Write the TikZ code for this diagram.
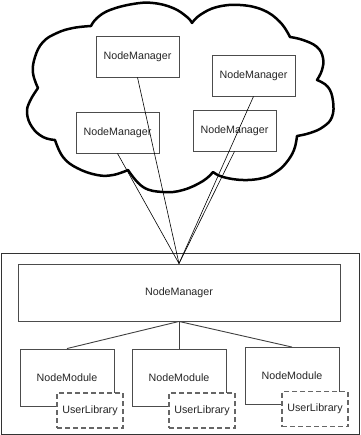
\documentclass[tikz,border=0pt]{standalone}
\usepackage{fontspec}
\setmainfont{Liberation Sans}
\begin{document}
\begin{tikzpicture}[x=1pt,y=-1pt,
  box/.style={draw=black!70, line width=0.9pt, fill=white, minimum width=83pt, minimum height=41pt, inner sep=0pt, font=\fontsize{10.7}{12}\selectfont, text=black!85},
  modbox/.style={box, minimum width=94pt, minimum height=57pt},
  libbox/.style={box, draw=black!60, dashed, dash pattern=on 5pt off 3pt, line width=1.1pt, minimum width=66pt, minimum height=35pt},
  link/.style={draw=black, line width=0.6pt},
  cloudline/.style={draw=black, line width=2.5pt, line join=round, line cap=round}]
\useasboundingbox (0,0) rectangle (360,435);
% cloud
\path[cloudline]
  plot[smooth, tension=0.7] coordinates {(38,88) (33,73) (35,57) (43,42) (57,33) (73,28) (91,26)}
  -- plot[smooth, tension=0.7] coordinates {(91,26) (97,18) (110,10) (133,4) (153,3) (173,8) (187,17) (192,23)}
  -- plot[smooth, tension=0.7] coordinates {(192,23) (200,15) (217,7) (240,5) (263,10) (280,22) (290,37)}
  -- plot[smooth, tension=0.7] coordinates {(290,37) (303,40) (317,47) (323,58) (322,70) (317,80)}
  -- plot[smooth, tension=0.7] coordinates {(317,80) (328,87) (333,101) (332,117) (323,127) (310,133) (297,136)}
  -- plot[smooth, tension=0.7] coordinates {(297,136) (294,150) (286,163) (276,172) (263,178) (243,180) (223,177) (213,172)}
  -- plot[smooth, tension=0.7] coordinates {(213,172) (203,181) (183,190) (163,192) (143,187) (128,170)}
  -- plot[smooth, tension=0.7] coordinates {(128,170) (113,175) (97,175) (77,168) (63,157) (55,140)}
  -- plot[smooth, tension=0.7] coordinates {(55,140) (43,137) (32,127) (27,113) (30,101) (38,88)};
% cloud boxes
\node[box] (nm1) at (137.5,56.5) {NodeManager};
\node[box] (nm2) at (253.5,75.5) {NodeManager};
\node[box] (nm3) at (117.5,132.5) {NodeManager};
\node[box] (nm4) at (234.5,130.5) {NodeManager};
% host
\node[draw=black!80, line width=0.9pt, minimum width=358pt, minimum height=181pt, inner sep=0pt] (host) at (180,343.5) {};
\node[box, minimum width=322pt, minimum height=57pt] (main) at (179,292.5) {NodeManager};
\node[modbox] (m1) at (67,377.5) {NodeModule};
\node[modbox] (m2) at (179,377.5) {NodeModule};
\node[modbox] (m3) at (292,376) {NodeModule};
\node[libbox] (u1) at (90,410.5) {UserLibrary};
\node[libbox] (u2) at (202,410.5) {UserLibrary};
\node[libbox] (u3) at (315,409) {UserLibrary};
% connectors
\draw[link] (nm1.south) -- (main.north);
\draw[link] (nm2.south) -- (main.north);
\draw[link] (nm3.south) -- (main.north);
\draw[link] (nm4.south) -- (main.north);
\draw[link, draw=black!75, line width=0.9pt] (main.south) -- (m1.north);
\draw[link, draw=black!75, line width=0.9pt] (main.south) -- (m2.north);
\draw[link, draw=black!75, line width=0.9pt] (main.south) -- (m3.north);
\end{tikzpicture}
\end{document}
